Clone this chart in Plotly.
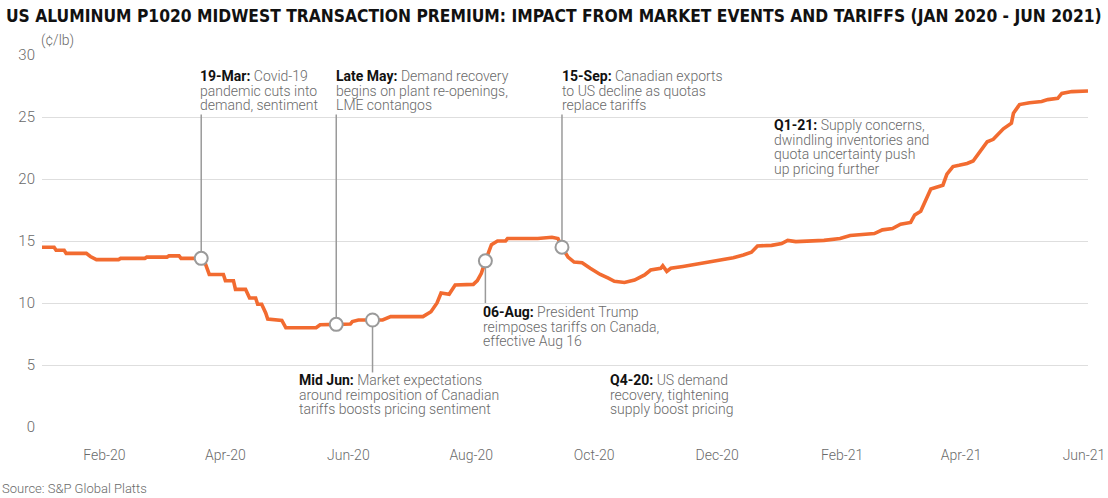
import plotly.graph_objects as go

# ---------------- data ----------------
dates = [
    "2020-01-01", "2020-01-07", "2020-01-08", "2020-01-12", "2020-01-13", "2020-01-23",
    "2020-01-25", "2020-01-28", "2020-02-08", "2020-02-09", "2020-02-21", "2020-02-22",
    "2020-03-03", "2020-03-04", "2020-03-09", "2020-03-10", "2020-03-20", "2020-03-22",
    "2020-03-24", "2020-03-31", "2020-04-01", "2020-04-05", "2020-04-06", "2020-04-11",
    "2020-04-13", "2020-04-16", "2020-04-17", "2020-04-19", "2020-04-21", "2020-04-22",
    "2020-04-29", "2020-05-01", "2020-05-16", "2020-05-18", "2020-05-26", "2020-06-02",
    "2020-06-03", "2020-06-06", "2020-06-13", "2020-06-18", "2020-06-22", "2020-07-08",
    "2020-07-12", "2020-07-15", "2020-07-17", "2020-07-21", "2020-07-24", "2020-08-02",
    "2020-08-04", "2020-08-06", "2020-08-08", "2020-08-11", "2020-08-14", "2020-08-18",
    "2020-08-19", "2020-09-03", "2020-09-10", "2020-09-13", "2020-09-15", "2020-09-18",
    "2020-09-21", "2020-09-25", "2020-09-29", "2020-10-04", "2020-10-08", "2020-10-11",
    "2020-10-16", "2020-10-21", "2020-10-26", "2020-10-29", "2020-11-03", "2020-11-04",
    "2020-11-06", "2020-11-08", "2020-11-14", "2020-11-21", "2020-11-27", "2020-12-03",
    "2020-12-09", "2020-12-14", "2020-12-18", "2020-12-21", "2020-12-28", "2021-01-02",
    "2021-01-05", "2021-01-09", "2021-01-23", "2021-01-31", "2021-02-05", "2021-02-17",
    "2021-02-21", "2021-02-26", "2021-03-02", "2021-03-07", "2021-03-09", "2021-03-12",
    "2021-03-15", "2021-03-17", "2021-03-21", "2021-03-23", "2021-03-25", "2021-03-28",
    "2021-03-31", "2021-04-04", "2021-04-07", "2021-04-10", "2021-04-14", "2021-04-17",
    "2021-04-22", "2021-04-26", "2021-04-27", "2021-04-30", "2021-05-05", "2021-05-11",
    "2021-05-14", "2021-05-19", "2021-05-21", "2021-05-26", "2021-06-01", "2021-06-03",
]
premium = [
    14.5, 14.5, 14.25, 14.25, 14.0, 14.0,
    13.75, 13.5, 13.5, 13.6, 13.6, 13.7,
    13.7, 13.8, 13.8, 13.6, 13.6, 13.2,
    12.3, 12.3, 11.8, 11.8, 11.1, 11.1,
    10.4, 10.4, 9.9, 9.9, 9.2, 8.7,
    8.6, 8.0, 8.0, 8.25, 8.28, 8.3,
    8.5, 8.63, 8.63, 8.63, 8.9, 8.9,
    9.3, 10.0, 10.8, 10.7, 11.45, 11.5,
    11.8, 12.4, 13.4, 14.7, 15.0, 15.0,
    15.2, 15.2, 15.3, 15.2, 14.5, 13.7,
    13.3, 13.25, 12.8, 12.3, 12.0, 11.75,
    11.65, 11.85, 12.26, 12.66, 12.8, 13.0,
    12.55, 12.8, 12.95, 13.15, 13.3, 13.45,
    13.65, 13.87, 14.1, 14.6, 14.65, 14.8,
    15.05, 14.95, 15.05, 15.2, 15.45, 15.6,
    15.9, 16.0, 16.35, 16.5, 17.1, 17.4,
    18.5, 19.2, 19.4, 19.5, 20.4, 21.0,
    21.1, 21.25, 21.45, 22.1, 23.0, 23.2,
    24.05, 24.5, 25.3, 26.0, 26.15, 26.25,
    26.4, 26.5, 26.9, 27.05, 27.1, 27.1,
]

tick_dates = ["2020-02-01", "2020-04-01", "2020-06-01", "2020-08-01", "2020-10-01",
              "2020-12-01", "2021-02-01", "2021-04-01", "2021-06-01"]
tick_labels = ["Feb-20", "Apr-20", "Jun-20", "Aug-20", "Oct-20",
               "Dec-20", "Feb-21", "Apr-21", "Jun-21"]

event_dates = ["2020-03-20", "2020-05-26", "2020-06-13", "2020-08-08", "2020-09-15"]
event_values = [13.6, 8.28, 8.63, 13.4, 14.5]
event_leader_end = [25.2, 25.2, 4.4, 10.0, 25.2]

notes = [
    ("19-Mar:", [" Covid-19", "pandemic cuts into", "demand, sentiment"]),
    ("Late May:", [" Demand recovery", "begins on plant re-openings,", "LME contangos"]),
    ("Mid Jun:", [" Market expectations", "around reimposition of Canadian",
                  "tariffs boosts pricing sentiment"]),
    ("06-Aug:", [" President Trump", "reimposes tariffs on Canada,", "effective Aug 16"]),
    ("15-Sep:", [" Canadian exports", "to US decline as quotas", "replace tariffs"]),
    ("Q4-20:", [" US demand", "recovery, tightening", "supply boost pricing"]),
    ("Q1-21:", [" Supply concerns,", "dwindling inventories and",
                "quota uncertainty push", "up pricing further"]),
]
# text block anchors (left x in px, first line centre y in px)
note_pos = [(198, 76), (334, 76), (297, 380), (481, 312), (560, 76), (608, 380), (772, 125)]

# ---------------- layout geometry ----------------
W, H = 1108, 498
L, R, T, B = 42, 20, 55, 71
PW, PH = W - L - R, H - T - B

def px(x):
    return (x - L) / PW

def py(y):
    return (H - B - y) / PH

ORANGE = "#F26B30"
GREY_TXT = "#6a6a6a"
FONT = "Roboto"

fig = go.Figure()
fig.add_trace(go.Scatter(
    x=dates, y=premium, mode="lines",
    line=dict(color=ORANGE, width=3.6), hoverinfo="skip", showlegend=False,
))
fig.add_trace(go.Scatter(
    x=event_dates, y=event_values, mode="markers",
    marker=dict(symbol="circle", size=13, color="white",
                line=dict(color="#9a9a9a", width=2)),
    hoverinfo="skip", showlegend=False,
))

for d, v, e in zip(event_dates, event_values, event_leader_end):
    fig.add_shape(type="line", xref="x", yref="y", x0=d, x1=d, y0=v, y1=e,
                  line=dict(color="#9a9a9a", width=1.5), layer="between")

annotations = []
LINE_H = 14.6
for (bold, lines), (x0, y0) in zip(notes, note_pos):
    for i, ln in enumerate(lines):
        if i == 0:
            txt = "<span style='color:#111111;font-weight:bold'>%s</span>%s" % (bold, ln)
        else:
            txt = ln
        annotations.append(dict(
            text=txt, xref="paper", yref="paper", x=px(x0), y=py(y0 + i * LINE_H),
            xanchor="left", yanchor="middle", showarrow=False, align="left",
            font=dict(family=FONT, size=14, color=GREY_TXT, weight=300),
        ))

annotations.append(dict(
    text="US ALUMINUM P1020 MIDWEST TRANSACTION PREMIUM: IMPACT FROM MARKET EVENTS AND TARIFFS (JAN 2020 - JUN 2021)",
    xref="paper", yref="paper", x=px(4), y=py(16), xanchor="left", yanchor="middle",
    showarrow=False,
    font=dict(family="DejaVu Sans Condensed, Roboto", size=17.3, color="#111111", weight="bold"),
))
annotations.append(dict(
    text="(¢/lb)", xref="paper", yref="paper", x=px(39), y=py(40), xanchor="left",
    yanchor="middle", showarrow=False, font=dict(family=FONT, size=14, color=GREY_TXT, weight=300),
))
annotations.append(dict(
    text="Source: S&P Global Platts", xref="paper", yref="paper", x=px(0), y=py(488),
    xanchor="left", yanchor="middle", showarrow=False,
    font=dict(family=FONT, size=13, color=GREY_TXT, weight=300),
))

fig.update_layout(
    width=W, height=H,
    margin=dict(l=L, r=R, t=T, b=B, pad=0, autoexpand=False),
    paper_bgcolor="white", plot_bgcolor="white",
    annotations=annotations,
    xaxis=dict(
        type="date", range=["2020-01-01", "2021-06-03"],
        tickvals=tick_dates, ticktext=tick_labels,
        showgrid=False, zeroline=False, showline=False, ticks="",
        ticklabelstandoff=18, automargin=False,
        tickfont=dict(family=FONT, size=14, color=GREY_TXT, weight=300),
    ),
    yaxis=dict(
        range=[0, 30], dtick=5, tick0=0,
        showgrid=True, gridcolor="#dedede", gridwidth=1,
        zeroline=False, showline=False, ticks="",
        ticklabelstandoff=6, automargin=False,
        tickfont=dict(family=FONT, size=15, color=GREY_TXT, weight=300),
    ),
)

fig.write_html(
    "out.html",
    config={"displayModeBar": False},
    post_script="document.body.style.margin='0px';document.body.style.padding='0px';",
)
